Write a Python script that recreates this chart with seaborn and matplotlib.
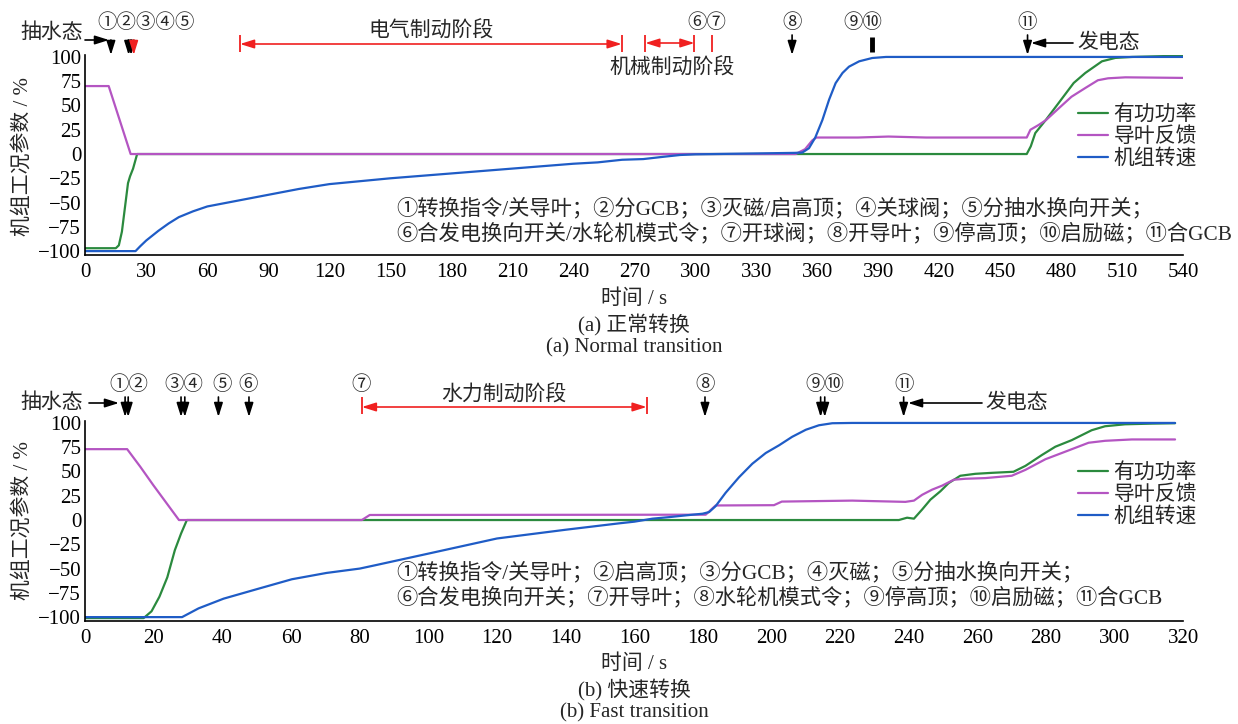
import matplotlib
matplotlib.use('Agg')
import matplotlib.pyplot as plt
import matplotlib.transforms as mtransforms
import pandas as pd
import seaborn as sns

# ---------------- data ----------------
series_names = ['有功功率', '导叶反馈', '机组转速']
series_colors = ['#2b8a3e', '#b455c2', '#1f5cc6']

# (a) normal transition
a_power_t = [0, 15, 16.5, 18, 19.5, 21, 22, 23.5, 25.5, 463, 465, 467.2, 472.5, 478.7,
             486.1, 491.8, 500, 506.6, 514.8, 540]
a_power_v = [-97, -97, -94, -80, -55, -30, -23, -15, 0, 0, 8, 21.6, 35.4, 52.6,
             73.2, 83.5, 95.5, 99, 100, 101.4]
a_guide_t = [0, 11.5, 22.3, 349.3, 354, 357.5, 359.5, 380, 395, 413.5, 463, 464.8, 468.9,
             472.5, 478.7, 485, 491.8, 498, 503, 511.5, 540]
a_guide_v = [70, 70, 0, 0, 5, 14, 17, 17, 18, 17, 17, 25, 30,
             35, 47, 59, 68, 76, 78, 79, 78.4]
a_speed_t = [0, 24.7, 27, 30, 33, 36, 41, 46, 53, 60, 75, 90, 105, 120, 150, 180, 210, 240,
             252, 264, 274.4, 284.5, 292.5, 300, 320, 348.9, 352.6, 355.9, 359, 362.5, 365.8,
             369, 372.4, 375.6, 380.6, 387, 393.8, 540]
a_speed_v = [-100, -100, -95, -89, -84, -79, -71.5, -65, -59, -54, -48, -42, -36, -31, -25,
             -20, -15, -10, -8.6, -5.9, -5.2, -2.8, -1, -0.3, 0.3, 1.2, 1.5, 6, 17, 35, 56,
             73, 83.5, 90, 95.5, 98.9, 100, 100]

# (b) fast transition
b_power_t = [0, 17, 19.3, 21.6, 23.9, 26.1, 27.9, 29.6, 237.1, 239.5, 241.5, 243.9, 246.3,
             249.2, 251.6, 255, 259.4, 264.2, 270.5, 274, 278.8, 282.7, 287.5, 293.3, 297.2,
             303, 310.8, 317.6]
b_power_v = [-101, -101, -94, -79, -59, -31, -14, 0, 0, 2.4, 1.4, 10.9, 21,
             29.6, 38, 45.6, 47.6, 48.6, 49.7, 55.8, 67, 75.5, 82.3, 92.5, 96.6,
             98.6, 99.3, 99.7]
b_guide_t = [0, 12.2, 16, 19.8, 27.3, 80.6, 82.9, 180.8, 183.7, 200.7, 203, 223.5, 239,
             241.5, 243.9, 246.8, 249.7, 253.1, 256.5, 262.3, 270, 274, 279.8, 285.6, 292.4,
             297.2, 305, 317.6]
b_guide_v = [73, 73, 55, 36, 0, 0, 5.2, 5.5, 15, 15.3, 19, 20, 18.7,
             20, 26, 31.3, 35.4, 41.5, 42.5, 43.2, 45.6, 51.7, 62.6, 70.4, 79.6,
             81.6, 83, 83]
b_speed_t = [0, 28.2, 33, 40.3, 50.2, 60.2, 70.3, 80, 84.6, 100.1, 120, 140, 155.6, 160,
             165.3, 170.2, 175, 179.9, 181.8, 183.7, 186.6, 190.5, 194.4, 198.3, 202.2,
             206, 210, 213.8, 217.7, 223.5, 317.6]
b_speed_v = [-100, -100, -91, -81, -71, -61, -54.5, -50, -46.5, -34.5, -19, -10, -3.4, -1.7,
             1.4, 3, 4.8, 6.5, 8.2, 14.3, 28, 44, 58, 69, 77,
             85.7, 93, 97.6, 99.7, 100, 100]

a_xticks = list(range(0, 541, 30))
b_xticks = list(range(0, 321, 20))
yticks = list(range(-100, 101, 25))

# event markers (time in s)
a_black_arrows = [12.6, 21.3, 22.5, 347.6, 463.4]
a_red_arrows = [23.8]
a_bar_marker = [386.8]
a_elec_stage = [76.1, 263.8]
a_mech_stage = [275.4, 299.6]
a_red_bars_single = [308]
a_labels = ['①②③④⑤', '⑥⑦', '⑧', '⑨⑩', '⑪']
a_label_t = [30.1, 305.8, 347.6, 382.5, 463.4]

b_black_arrows = [11.6, 12.5, 27.9, 29.0, 38.8, 47.7, 180.6, 214.3, 215.5, 238.5]
b_hydro_stage = [80.6, 163.6]
b_labels = ['①②', '③④', '⑤', '⑥', '⑦', '⑧', '⑨⑩', '⑪']
b_label_t = [12.7, 28.8, 40, 47.4, 80.5, 180.6, 215.6, 238.5]

a_notes = ['①转换指令/关导叶；②分GCB；③灭磁/启高顶；④关球阀；⑤分抽水换向开关；',
           '⑥合发电换向开关/水轮机模式令；⑦开球阀；⑧开导叶；⑨停高顶；⑩启励磁；⑪合GCB']
b_notes = ['①转换指令/关导叶；②启高顶；③分GCB；④灭磁；⑤分抽水换向开关；',
           '⑥合发电换向开关；⑦开导叶；⑧水轮机模式令；⑨停高顶；⑩启励磁；⑪合GCB']

# ---------------- figure ----------------
W, H = 1238, 724
sns.set_theme(style='white')
plt.rcParams['font.family'] = ['Liberation Serif', 'Noto Sans CJK SC']
plt.rcParams['axes.unicode_minus'] = True

fig = plt.figure(figsize=(W / 100, H / 100), dpi=100)


def fx(px):
    return px / W


def fy(py):
    return 1 - py / H


X0, XW = 85.3, 1098
ax_a = fig.add_axes([fx(X0), fy(255), XW / W, 200 / H])
ax_b = fig.add_axes([fx(X0), fy(621), XW / W, 200 / H])


def make_df(pt, pv, gt, gv, st, sv):
    frames = []
    for name, t, v in zip(series_names, [pt, gt, st], [pv, gv, sv]):
        frames.append(pd.DataFrame({'t': t, 'v': v, 'series': name}))
    return pd.concat(frames, ignore_index=True)


df_a = make_df(a_power_t, a_power_v, a_guide_t, a_guide_v, a_speed_t, a_speed_v)
df_b = make_df(b_power_t, b_power_v, b_guide_t, b_guide_v, b_speed_t, b_speed_v)

for ax, df, xmax, xt in [(ax_a, df_a, 540, a_xticks), (ax_b, df_b, 320, b_xticks)]:
    sns.lineplot(data=df, x='t', y='v', hue='series', hue_order=series_names,
                 palette=series_colors, estimator=None, linewidth=1.6, ax=ax)
    ax.set_xlim(0, xmax)
    ax.set_ylim(-104, 102)
    ax.set_xticks(xt)
    ax.set_yticks(yticks)
    ax.set_xlabel('')
    ax.set_ylabel('')
    for s in ['top', 'right']:
        ax.spines[s].set_visible(False)
    for s in ['left', 'bottom']:
        ax.spines[s].set_color('black')
        ax.spines[s].set_linewidth(1.2)
    ax.tick_params(axis='both', direction='in', length=5, width=1.1, color='black',
                   labelsize=15, labelcolor='black')
    ax.tick_params(axis='x', pad=6)
    ax.tick_params(axis='y', pad=3)
    ax.set_facecolor('none')
    ax.grid(False)

# legends
for ax, cy in [(ax_a, 137), (ax_b, 495)]:
    handles, labels = ax.get_legend_handles_labels()
    ax.legend(handles, labels, loc='center left', bbox_to_anchor=(fx(1078), fy(cy)),
              bbox_transform=fig.transFigure, frameon=False, fontsize=15,
              handlelength=1.45, handletextpad=0.25, labelspacing=0.1,
              borderpad=0, borderaxespad=0)

# axis texts
for cy, xly, caps in [(156, 299, ['(a) 正常转换', '(a) Normal transition']),
                      (520, 664, ['(b) 快速转换', '(b) Fast transition'])]:
    fig.text(fx(23), fy(cy), '机组工况参数 / %', rotation=90, ha='center', va='center',
             fontsize=15)
    fig.text(fx(634), fy(xly), '时间 / s', ha='center', va='center', fontsize=15)
    fig.text(fx(634), fy(xly + 26), caps[0], ha='center', va='center', fontsize=15)
    fig.text(fx(634), fy(xly + 49), caps[1], ha='center', va='center', fontsize=15)

# explanatory notes
for notes, y1 in [(a_notes, 208), (b_notes, 572)]:
    fig.text(fx(396), fy(y1), notes[0], ha='left', va='center', fontsize=15.3)
    fig.text(fx(396), fy(y1 + 25), notes[1], ha='left', va='center', fontsize=15.3)


def trans_of(ax):
    return mtransforms.blended_transform_factory(ax.transData, fig.transFigure)


def arrow(ax, xy, xytext, trans, color='black', style='-|>'):
    ax.annotate('', xy=xy, xytext=xytext, xycoords=trans, textcoords=trans,
                arrowprops=dict(arrowstyle=style + ',head_length=0.7,head_width=0.22',
                                color=color, lw=1.2, shrinkA=0, shrinkB=0),
                annotation_clip=False)


def vbar(ax, t, y0, y1, color, lw=1.3):
    ax.plot([t, t], [fy(y0), fy(y1)], color=color, lw=lw, transform=trans_of(ax),
            clip_on=False, solid_capstyle='butt')


RED = '#f02020'

# ----- panel (a) annotations -----
tr = trans_of(ax_a)
for t in a_black_arrows:
    y_top = 40 if t < 30 else 35
    arrow(ax_a, (t, fy(55)), (t, fy(y_top)), tr)
for t in a_red_arrows:
    arrow(ax_a, (t, fy(55)), (t, fy(40)), tr, color=RED)
for t in a_bar_marker:
    vbar(ax_a, t, 37, 52, 'black', lw=3.5)
arrow(ax_a, (a_elec_stage[1], fy(44)), (a_elec_stage[0], fy(44)), tr, color=RED, style='<|-|>')
arrow(ax_a, (a_mech_stage[1], fy(43)), (a_mech_stage[0], fy(43)), tr, color=RED, style='<|-|>')
for t in a_elec_stage + a_mech_stage + a_red_bars_single:
    vbar(ax_a, t, 35, 52, RED)
for lab, t in zip(a_labels, a_label_t):
    ax_a.text(t, fy(23), lab, transform=tr, ha='center', va='center', fontsize=14)
ax_a.text(sum(a_elec_stage) / 2, fy(31), '电气制动阶段', transform=tr, ha='center',
          va='center', fontsize=15)
ax_a.text(288.6, fy(68), '机械制动阶段', transform=tr, ha='center', va='center', fontsize=15)
fig.text(fx(20), fy(33), '抽水态', ha='left', va='center', fontsize=15)
arrow(ax_a, (fx(109), fy(40)), (fx(85), fy(40)), fig.transFigure)
fig.text(fx(1077), fy(43), '发电态', ha='left', va='center', fontsize=15)
arrow(ax_a, (fx(1031), fy(43)), (fx(1073), fy(43)), fig.transFigure)

# ----- panel (b) annotations -----
tr = trans_of(ax_b)
for t in b_black_arrows:
    arrow(ax_b, (t, fy(417)), (t, fy(397)), tr)
arrow(ax_b, (b_hydro_stage[1], fy(407)), (b_hydro_stage[0], fy(407)), tr, color=RED,
      style='<|-|>')
for t in b_hydro_stage:
    vbar(ax_b, t, 397, 414, RED)
for lab, t in zip(b_labels, b_label_t):
    ax_b.text(t, fy(385), lab, transform=tr, ha='center', va='center', fontsize=14)
ax_b.text(121.9, fy(395), '水力制动阶段', transform=tr, ha='center', va='center', fontsize=15)
fig.text(fx(20), fy(403), '抽水态', ha='left', va='center', fontsize=15)
arrow(ax_b, (fx(119), fy(403)), (fx(89), fy(403)), fig.transFigure)
fig.text(fx(985), fy(403), '发电态', ha='left', va='center', fontsize=15)
arrow(ax_b, (fx(908), fy(403)), (fx(982), fy(403)), fig.transFigure)

fig.savefig('out.png', dpi=100, facecolor='white')
